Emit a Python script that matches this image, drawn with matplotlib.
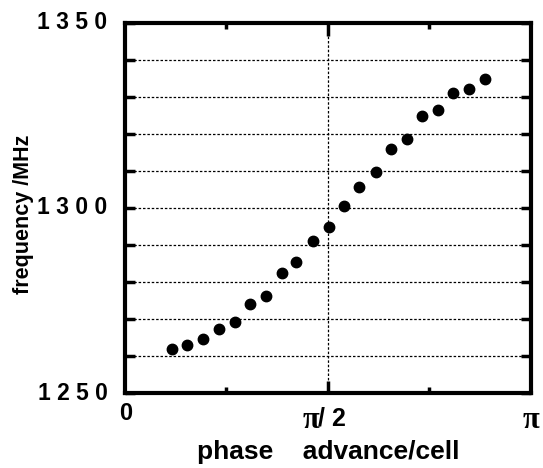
import numpy as np
import matplotlib
matplotlib.use("Agg")
import matplotlib.pyplot as plt

# measured dispersion curve, phase as a fraction of pi
phase_frac = [0.116, 0.154, 0.194, 0.232, 0.271, 0.308, 0.347, 0.387, 0.423, 0.463,
              0.502, 0.541, 0.578, 0.618, 0.656, 0.694, 0.733, 0.770, 0.808, 0.848, 0.886]
freq_mhz = [1262.0, 1262.9, 1264.6, 1267.2, 1269.2, 1274.1, 1276.2, 1282.5, 1285.3, 1291.0,
            1294.8, 1300.5, 1305.6, 1309.7, 1315.9, 1318.5, 1324.8, 1326.4, 1331.1, 1332.0, 1334.8]

y_labels = ["1 2 5 0", "1 3 0 0", "1 3 5 0"]
y_label_vals = [1250, 1300, 1350]

W, H = 543, 468

fig = plt.figure(figsize=(W / 100, H / 100), dpi=100)
ax = fig.add_axes([124.5 / W, 1 - 393 / H, 406.5 / W, 370.5 / H])

phase = np.array(phase_frac) * np.pi
ax.plot(phase, freq_mhz, 'o', color='black', markersize=7.5, zorder=3)

ax.set_xlim(0, np.pi)
ax.set_ylim(1250, 1350)

# grid: horizontal every 10 MHz, one vertical at pi/2
for yv in range(1260, 1350, 10):
    ax.axhline(yv, color='black', lw=0.9, ls=(0, (2, 1.5)), zorder=1)
ax.axvline(np.pi / 2, color='black', lw=0.9, ls=(0, (2, 1.5)), zorder=1)

for sp in ax.spines.values():
    sp.set_linewidth(3)

ax.set_yticks(np.arange(1250, 1351, 10))
ax.set_yticklabels([])
ax.set_xticks([np.pi / 2])
ax.set_xticks([np.pi / 4, 3 * np.pi / 4], minor=True)
ax.set_xticklabels([])
ax.tick_params(axis='y', direction='in', length=7, width=2.5, left=True, right=True)
ax.tick_params(axis='x', which='major', direction='in', length=9, width=2.5, top=True, bottom=True)
ax.tick_params(axis='x', which='minor', direction='in', length=4, width=2.5, top=True, bottom=True)

font = dict(family='Liberation Sans', fontweight='bold')
for val, lab in zip(y_label_vals, y_labels):
    ax.text(-0.042, (val - 1250) / 100, lab, transform=ax.transAxes,
            ha='right', va='center', fontsize=16.5, **font)

# x tick labels: 0, pi/2, pi
fig.text(126 / W, 1 - 413 / H, "0", ha='center', va='center', fontsize=17, **font)
fig.text(319 / W, 1 - 420 / H, "π", ha='right', va='center', fontsize=22,
         family='Liberation Serif', fontweight='bold')
fig.text(318 / W, 1 - 419 / H, "/ 2", ha='left', va='center', fontsize=18, **font)
fig.text(531 / W, 1 - 421 / H, "π", ha='center', va='center', fontsize=22,
         family='Liberation Serif', fontweight='bold')

fig.text(328 / W, 1 - 452 / H, "phase    advance/cell", ha='center', va='center',
         fontsize=19, **font)
fig.text(24 / W, 1 - 214.5 / H, "frequency /MHz", ha='center', va='center', rotation=90,
         fontsize=15.5, **font)

fig.savefig("out.png", dpi=100)
